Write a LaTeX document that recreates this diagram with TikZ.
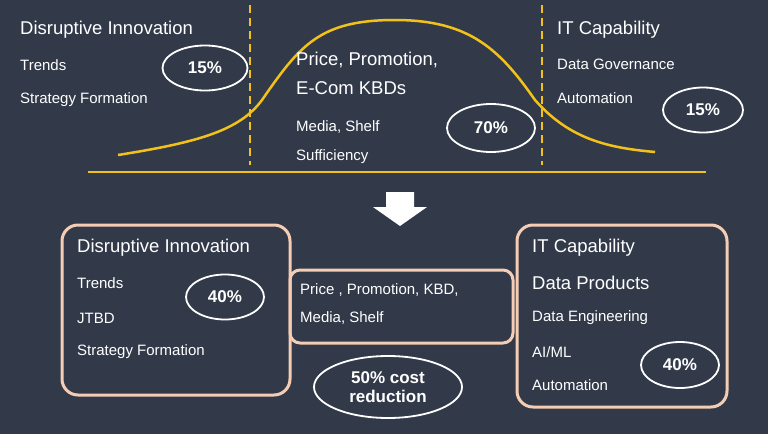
\documentclass[tikz,border=0pt]{standalone}
\usepackage{fontspec}
\setmainfont{Liberation Sans}
\usetikzlibrary{shapes.geometric}
\definecolor{bg}{HTML}{323A4A}
\definecolor{gold}{HTML}{F2C21B}
\definecolor{peach}{HTML}{F5CDB5}
\tikzset{
  head/.style={anchor=west, text=white, font=\fontsize{18.5}{20}\selectfont, inner sep=0pt},
  item/.style={anchor=west, text=white, font=\fontsize{15}{17}\selectfont, inner sep=0pt},
  pct/.style={draw=white, line width=1.8pt, ellipse, text=white, font=\bfseries\fontsize{17}{19}\selectfont, inner sep=0pt, align=center},
  group/.style={draw=peach, line width=3pt, rounded corners=16pt},
  divider/.style={gold, line width=2.2pt, dash pattern=on 8pt off 5pt}
}
\begin{document}
\begin{tikzpicture}[x=1pt, y=-1pt]
\fill [bg] (0,0) rectangle (768,434);
% top curve
\draw [divider] (250,5) -- (250,165);
\draw [divider] (542,5) -- (542,165);
\draw [gold, line width=2.5pt] (118,155) .. controls (200,142) and (240,130) .. (262,100)
  .. controls (300,45) and (320,20) .. (395,20) .. controls (470,20) and (500,50) .. (535,100)
  .. controls (570,140) and (610,148) .. (655,152);
\draw [gold, line width=2.5pt] (88,172) -- (706,172);
% top left
\node [head] (di) at (20,30) {Disruptive Innovation};
\node [item] (tr) at (20,65) {Trends};
\node [item] (sf) at (20,100) {Strategy Formation};
\node [pct, minimum width=85pt, minimum height=45pt] (p1) at (205,68) {15\%};
% top middle
\node [head] (pp) at (296,60) {Price, Promotion,};
\node [head] (ec) at (296,88) {E-Com KBDs};
\node [item] (ms) at (296,127) {Media, Shelf};
\node [item] (su) at (296,157) {Sufficiency};
\node [pct, minimum width=88pt, minimum height=48pt] (p2) at (491,128) {70\%};
% top right
\node [head] (it) at (557,30) {IT Capability};
\node [item] (dg) at (557,64) {Data Governance};
\node [item] (au) at (557,98) {Automation};
\node [pct, minimum width=80pt, minimum height=45pt] (p3) at (703,110) {15\%};
% arrow
\fill [white] (386,192) -- (414,192) -- (414,207) -- (427,207) -- (400,226)
  -- (373,207) -- (386,207) -- cycle;
% bottom left
\draw [group] (62,225) rectangle (290,395);
\node [head] (bdi) at (77,248) {Disruptive Innovation};
\node [item] (btr) at (77,283) {Trends};
\node [item] (bjt) at (77,318) {JTBD};
\node [item] (bsf) at (77,352) {Strategy Formation};
\node [pct, minimum width=78pt, minimum height=45pt] (p4) at (225,297) {40\%};
% bottom middle
\draw [group, rounded corners=10pt] (290,270) rectangle (513,343);
\node [item] (bpp) at (300,290) {Price , Promotion, KBD,};
\node [item] (bms) at (300,318) {Media, Shelf};
\node [pct, minimum width=148pt, minimum height=62pt] (cost) at (388,387) {50\% cost\\reduction};
% bottom right
\draw [group] (517,225) rectangle (727,407);
\node [head] (bit) at (532,248) {IT Capability};
\node [head] (bdp) at (532,283) {Data Products};
\node [item] (bde) at (532,318) {Data Engineering};
\node [item] (bai) at (532,352) {AI/ML};
\node [item] (bau) at (532,385) {Automation};
\node [pct, minimum width=78pt, minimum height=46pt] (p5) at (680,365) {40\%};
\end{tikzpicture}
\end{document}
